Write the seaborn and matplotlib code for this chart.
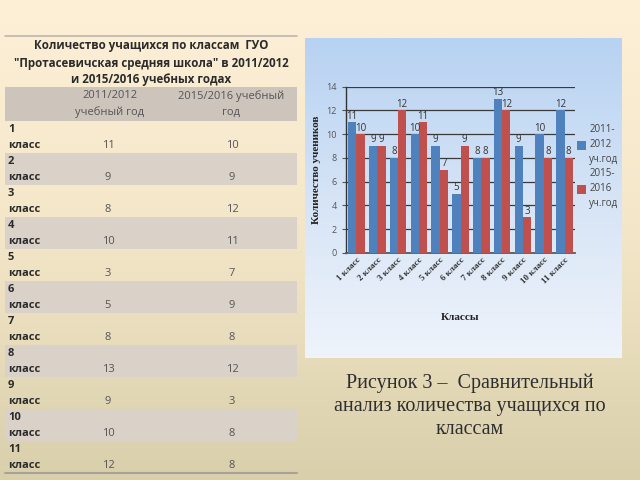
import numpy as np
import pandas as pd
import matplotlib
matplotlib.use("Agg")
import matplotlib.pyplot as plt
from matplotlib.colors import LinearSegmentedColormap
from matplotlib.patches import Rectangle
import seaborn as sns

# ---- data ----
classes = ["1 класс", "2 класс", "3 класс", "4 класс", "5 класс", "6 класс",
           "7 класс", "8 класс", "9 класс", "10 класс", "11 класс"]
series_names = ["2011-\n2012\nуч.год", "2015-\n2016\nуч.год"]
chart_2011 = [11, 9, 8, 10, 9, 5, 8, 13, 9, 10, 12]
chart_2015 = [10, 9, 12, 11, 7, 9, 8, 12, 3, 8, 8]

table_title = "Количество учащихся по классам  ГУО\n\"Протасевичская средняя школа\" в 2011/2012\nи 2015/2016 учебных годах"
table_headers = ["2011/2012\nучебный год", "2015/2016 учебный\nгод"]
table_rows = ["1", "2", "3", "4", "5", "6", "7", "8", "9", "10", "11"]
table_2011 = [11, 9, 8, 10, 3, 5, 8, 13, 9, 10, 12]
table_2015 = [10, 9, 12, 11, 7, 9, 8, 12, 3, 8, 8]
caption = "Рисунок 3 –  Сравнительный\nанализ количества учащихся по\nклассам"

sns.set_theme(style="white")
plt.rcParams['font.family'] = ['Open Sans', 'DejaVu Sans']

fig = plt.figure(figsize=(6.4, 4.8), dpi=100)

# ---- background axes in pixel coords ----
bg = fig.add_axes([0, 0, 1, 1])
bg.set_xlim(0, 640)
bg.set_ylim(480, 0)
bg.axis("off")
cmap_bg = LinearSegmentedColormap.from_list("bg", ["#fdf0d7", "#f3e6c8", "#d9cfab"])
grad = np.linspace(0, 1, 256).reshape(-1, 1)
bg.imshow(grad, cmap=cmap_bg, extent=[0, 640, 480, 0], aspect="auto", zorder=0)

# chart panel gradient
cmap_panel = LinearSegmentedColormap.from_list("panel", ["#b7d2f2", "#d6e4f6", "#eff4fb"])
bg.imshow(grad, cmap=cmap_panel, extent=[305, 622, 358, 38], aspect="auto", zorder=1)

# ---- table ----
bg.plot([5, 297], [36, 36], color="#bdb5ae", lw=1.2, zorder=2)
bg.text(151, 63, table_title, ha="center", va="center", fontsize=8.3,
        fontweight="bold", color="#2b2b2b", linespacing=1.4, zorder=3)
bg.add_patch(Rectangle((5, 87), 292, 34, color="#cdc4bc", zorder=2, lw=0))
bg.text(110, 104, table_headers[0], ha="center", va="center", fontsize=8,
        color="#555555", linespacing=1.6, zorder=3)
bg.text(231, 104, table_headers[1], ha="center", va="center", fontsize=8,
        color="#555555", linespacing=1.6, zorder=3)
row_h = 32
for i, (lab, a, b) in enumerate(zip(table_rows, table_2011, table_2015)):
    top = 121 + i * row_h
    if i % 2 == 1:
        bg.add_patch(Rectangle((5, top), 292, row_h, color="#dad1c9", zorder=2, lw=0))
    bg.text(8, top + 8.5, lab, ha="left", va="center", fontsize=8,
            fontweight="bold", color="#2b2b2b", zorder=3)
    bg.text(8, top + 24, "класс", ha="left", va="center", fontsize=8,
            fontweight="bold", color="#2b2b2b", zorder=3)
    bg.text(108, top + 24, str(a), ha="center", va="center", fontsize=8,
            color="#555555", zorder=3)
    bg.text(232, top + 24, str(b), ha="center", va="center", fontsize=8,
            color="#555555", zorder=3)
bg.plot([5, 297], [473, 473], color="#a9a29b", lw=1.5, zorder=3)

# ---- caption ----
bg.text(470, 406, caption, ha="center", va="center", fontsize=14.5,
        family=["Liberation Serif", "DejaVu Serif"], color="#2e2e2e",
        linespacing=1.28, zorder=3)

# ---- bar chart ----
df = pd.DataFrame({
    "Класс": classes * 2,
    "Количество": chart_2011 + chart_2015,
    "Год": [series_names[0]] * len(classes) + [series_names[1]] * len(classes),
})
ax = fig.add_axes([346 / 640, 1 - 253 / 480, 229 / 640, (253 - 86.7) / 480])
ax.patch.set_alpha(0)
sns.barplot(data=df, x="Класс", y="Количество", hue="Год",
            palette=["#4f81bd", "#c0504d"], width=0.8, ax=ax, zorder=3,
            saturation=1, linewidth=0)
ax.set_ylim(0, 14)
ax.set_yticks(range(0, 15, 2))
ax.yaxis.grid(True, color="#3a3a3a", lw=0.9, zorder=0)
ax.set_axisbelow(True)
for s in ["top", "right"]:
    ax.spines[s].set_visible(False)
ax.spines["left"].set_color("#333333")
ax.spines["bottom"].set_color("#555555")
ax.spines["left"].set_linewidth(1.0)
ax.tick_params(axis="y", labelsize=6.5, colors="#555555", length=3, left=True, width=0.8)
ax.tick_params(axis="x", length=0, pad=2)
for c in ax.containers:
    ax.bar_label(c, fontsize=7, color="#333333", padding=0.5)
ax.set_xticks(range(len(classes)))
ax.set_xticklabels(classes, rotation=45, ha="right", rotation_mode="anchor",
                   fontsize=6.5, fontweight="bold", color="#333333",
                   family=["Liberation Serif", "DejaVu Serif"])
ax.set_ylabel("Количество учеников", fontsize=8, fontweight="bold",
              family=["Liberation Serif", "DejaVu Serif"], color="#222222", labelpad=4)
ax.set_xlabel("Классы", fontsize=8, fontweight="bold",
              family=["Liberation Serif", "DejaVu Serif"], color="#222222", labelpad=20)
leg = ax.legend(loc="center left", bbox_to_anchor=(0.99, 0.52), frameon=False,
                fontsize=7, handlelength=1.0, handleheight=1.0, handletextpad=0.3,
                labelspacing=0.3, borderaxespad=0)
for t in leg.get_texts():
    t.set_color("#444444")
    t.set_linespacing(1.5)

fig.savefig("out.png", dpi=100)
